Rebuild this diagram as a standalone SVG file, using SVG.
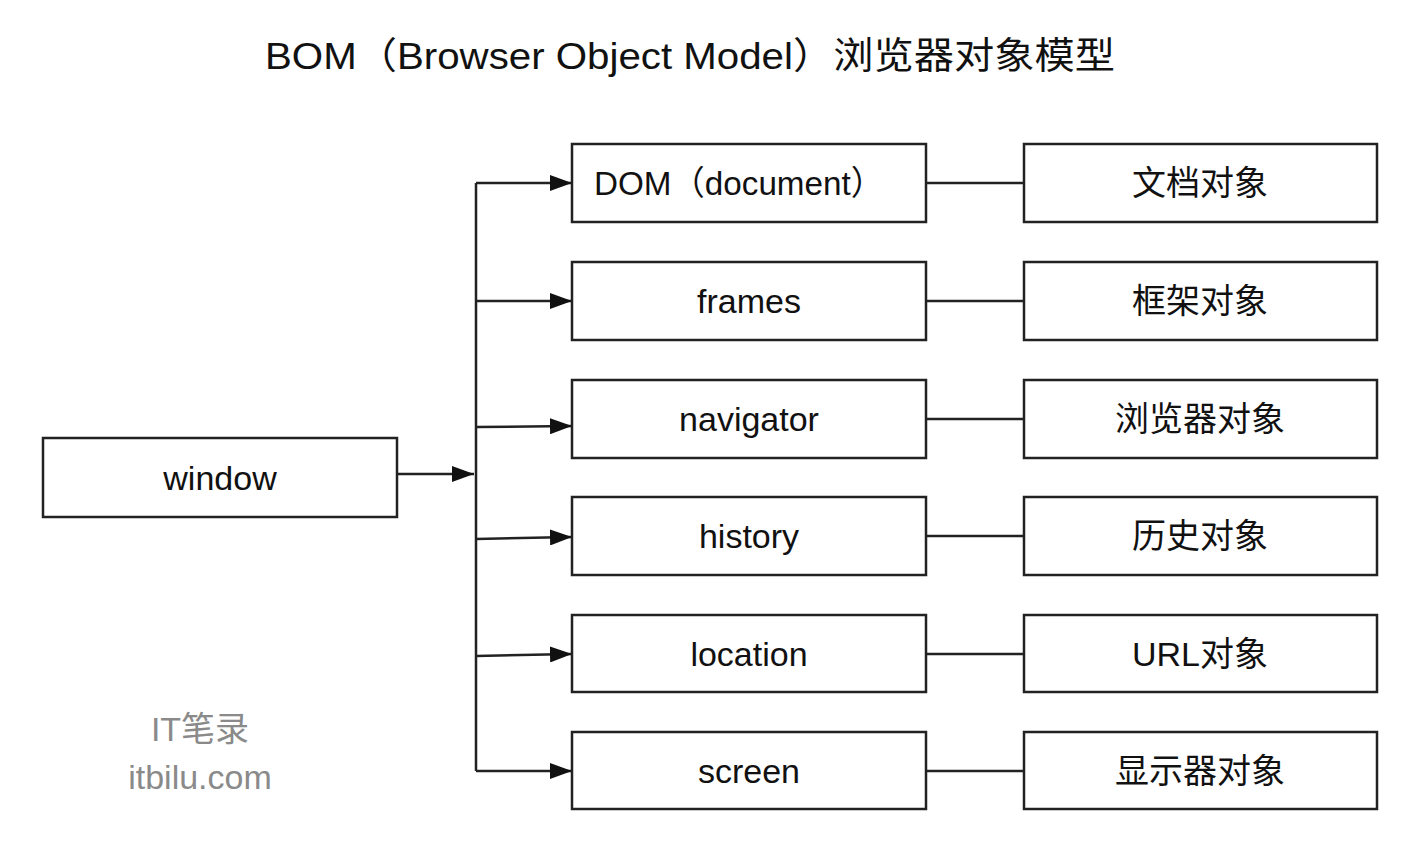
<svg xmlns="http://www.w3.org/2000/svg" width="1406" height="866" viewBox="0 0 1406 866">
<defs>
<marker id="arr" viewBox="0 0 22 16" refX="22" refY="8" markerWidth="22" markerHeight="16" markerUnits="userSpaceOnUse" orient="auto">
<path d="M0,0 L22,8 L0,16 Z" fill="#111"/>
</marker>
<style>
.box{fill:#fff;stroke:#222;stroke-width:2.5}
.t{font-family:"Liberation Sans","Noto Sans CJK SC",sans-serif;font-size:34px;fill:#111;text-anchor:middle;dominant-baseline:central}
.c{fill:none;stroke:#222;stroke-width:2.5}
.wm{font-family:"Liberation Sans","Noto Sans CJK SC",sans-serif;font-size:34px;fill:#8a8a8a;text-anchor:middle}
</style>
</defs>
<rect width="1406" height="866" fill="#fff"/>
<text x="690" y="56" class="t" style="font-size:37px" textLength="850" lengthAdjust="spacingAndGlyphs">BOM（Browser Object Model）浏览器对象模型</text>
<g id="connectors">
<path class="c" d="M397,474 H474" marker-end="url(#arr)"/>
<path class="c" d="M476,183 V771"/>
<path class="c" d="M476,183 H572" marker-end="url(#arr)"/>
<path class="c" d="M476,301 H572" marker-end="url(#arr)"/>
<path class="c" d="M476,427 L572,426" marker-end="url(#arr)"/>
<path class="c" d="M476,539 L572,537" marker-end="url(#arr)"/>
<path class="c" d="M476,656 L572,654" marker-end="url(#arr)"/>
<path class="c" d="M476,771 H572" marker-end="url(#arr)"/>
<path class="c" d="M926,183 H1024 M926,301 H1024 M926,419 H1024 M926,536 H1024 M926,654 H1024 M926,771 H1024"/>
</g>
<g id="window"><rect class="box" x="43" y="438" width="354" height="79"/><text class="t" x="220" y="478">window</text></g>
<g id="dom"><rect class="box" x="572" y="144" width="354" height="78"/><text class="t" x="739" y="183" textLength="290" lengthAdjust="spacingAndGlyphs">DOM（document）</text></g>
<g id="frames"><rect class="box" x="572" y="262" width="354" height="78"/><text class="t" x="749" y="301">frames</text></g>
<g id="navigator"><rect class="box" x="572" y="380" width="354" height="78"/><text class="t" x="749" y="419">navigator</text></g>
<g id="history"><rect class="box" x="572" y="497" width="354" height="78"/><text class="t" x="749" y="536">history</text></g>
<g id="location"><rect class="box" x="572" y="615" width="354" height="77"/><text class="t" x="749" y="654">location</text></g>
<g id="screen"><rect class="box" x="572" y="732" width="354" height="77"/><text class="t" x="749" y="771">screen</text></g>
<g id="doc-obj"><rect class="box" x="1024" y="144" width="353" height="78"/><text class="t" x="1200" y="183">文档对象</text></g>
<g id="frames-obj"><rect class="box" x="1024" y="262" width="353" height="78"/><text class="t" x="1200" y="301">框架对象</text></g>
<g id="browser-obj"><rect class="box" x="1024" y="380" width="353" height="78"/><text class="t" x="1200" y="419">浏览器对象</text></g>
<g id="history-obj"><rect class="box" x="1024" y="497" width="353" height="78"/><text class="t" x="1200" y="536">历史对象</text></g>
<g id="url-obj"><rect class="box" x="1024" y="615" width="353" height="77"/><text class="t" x="1200" y="654">URL对象</text></g>
<g id="screen-obj"><rect class="box" x="1024" y="732" width="353" height="77"/><text class="t" x="1200" y="771">显示器对象</text></g>
<text class="wm" x="200" y="741">IT笔录</text>
<text class="wm" x="200" y="789">itbilu.com</text>
</svg>
